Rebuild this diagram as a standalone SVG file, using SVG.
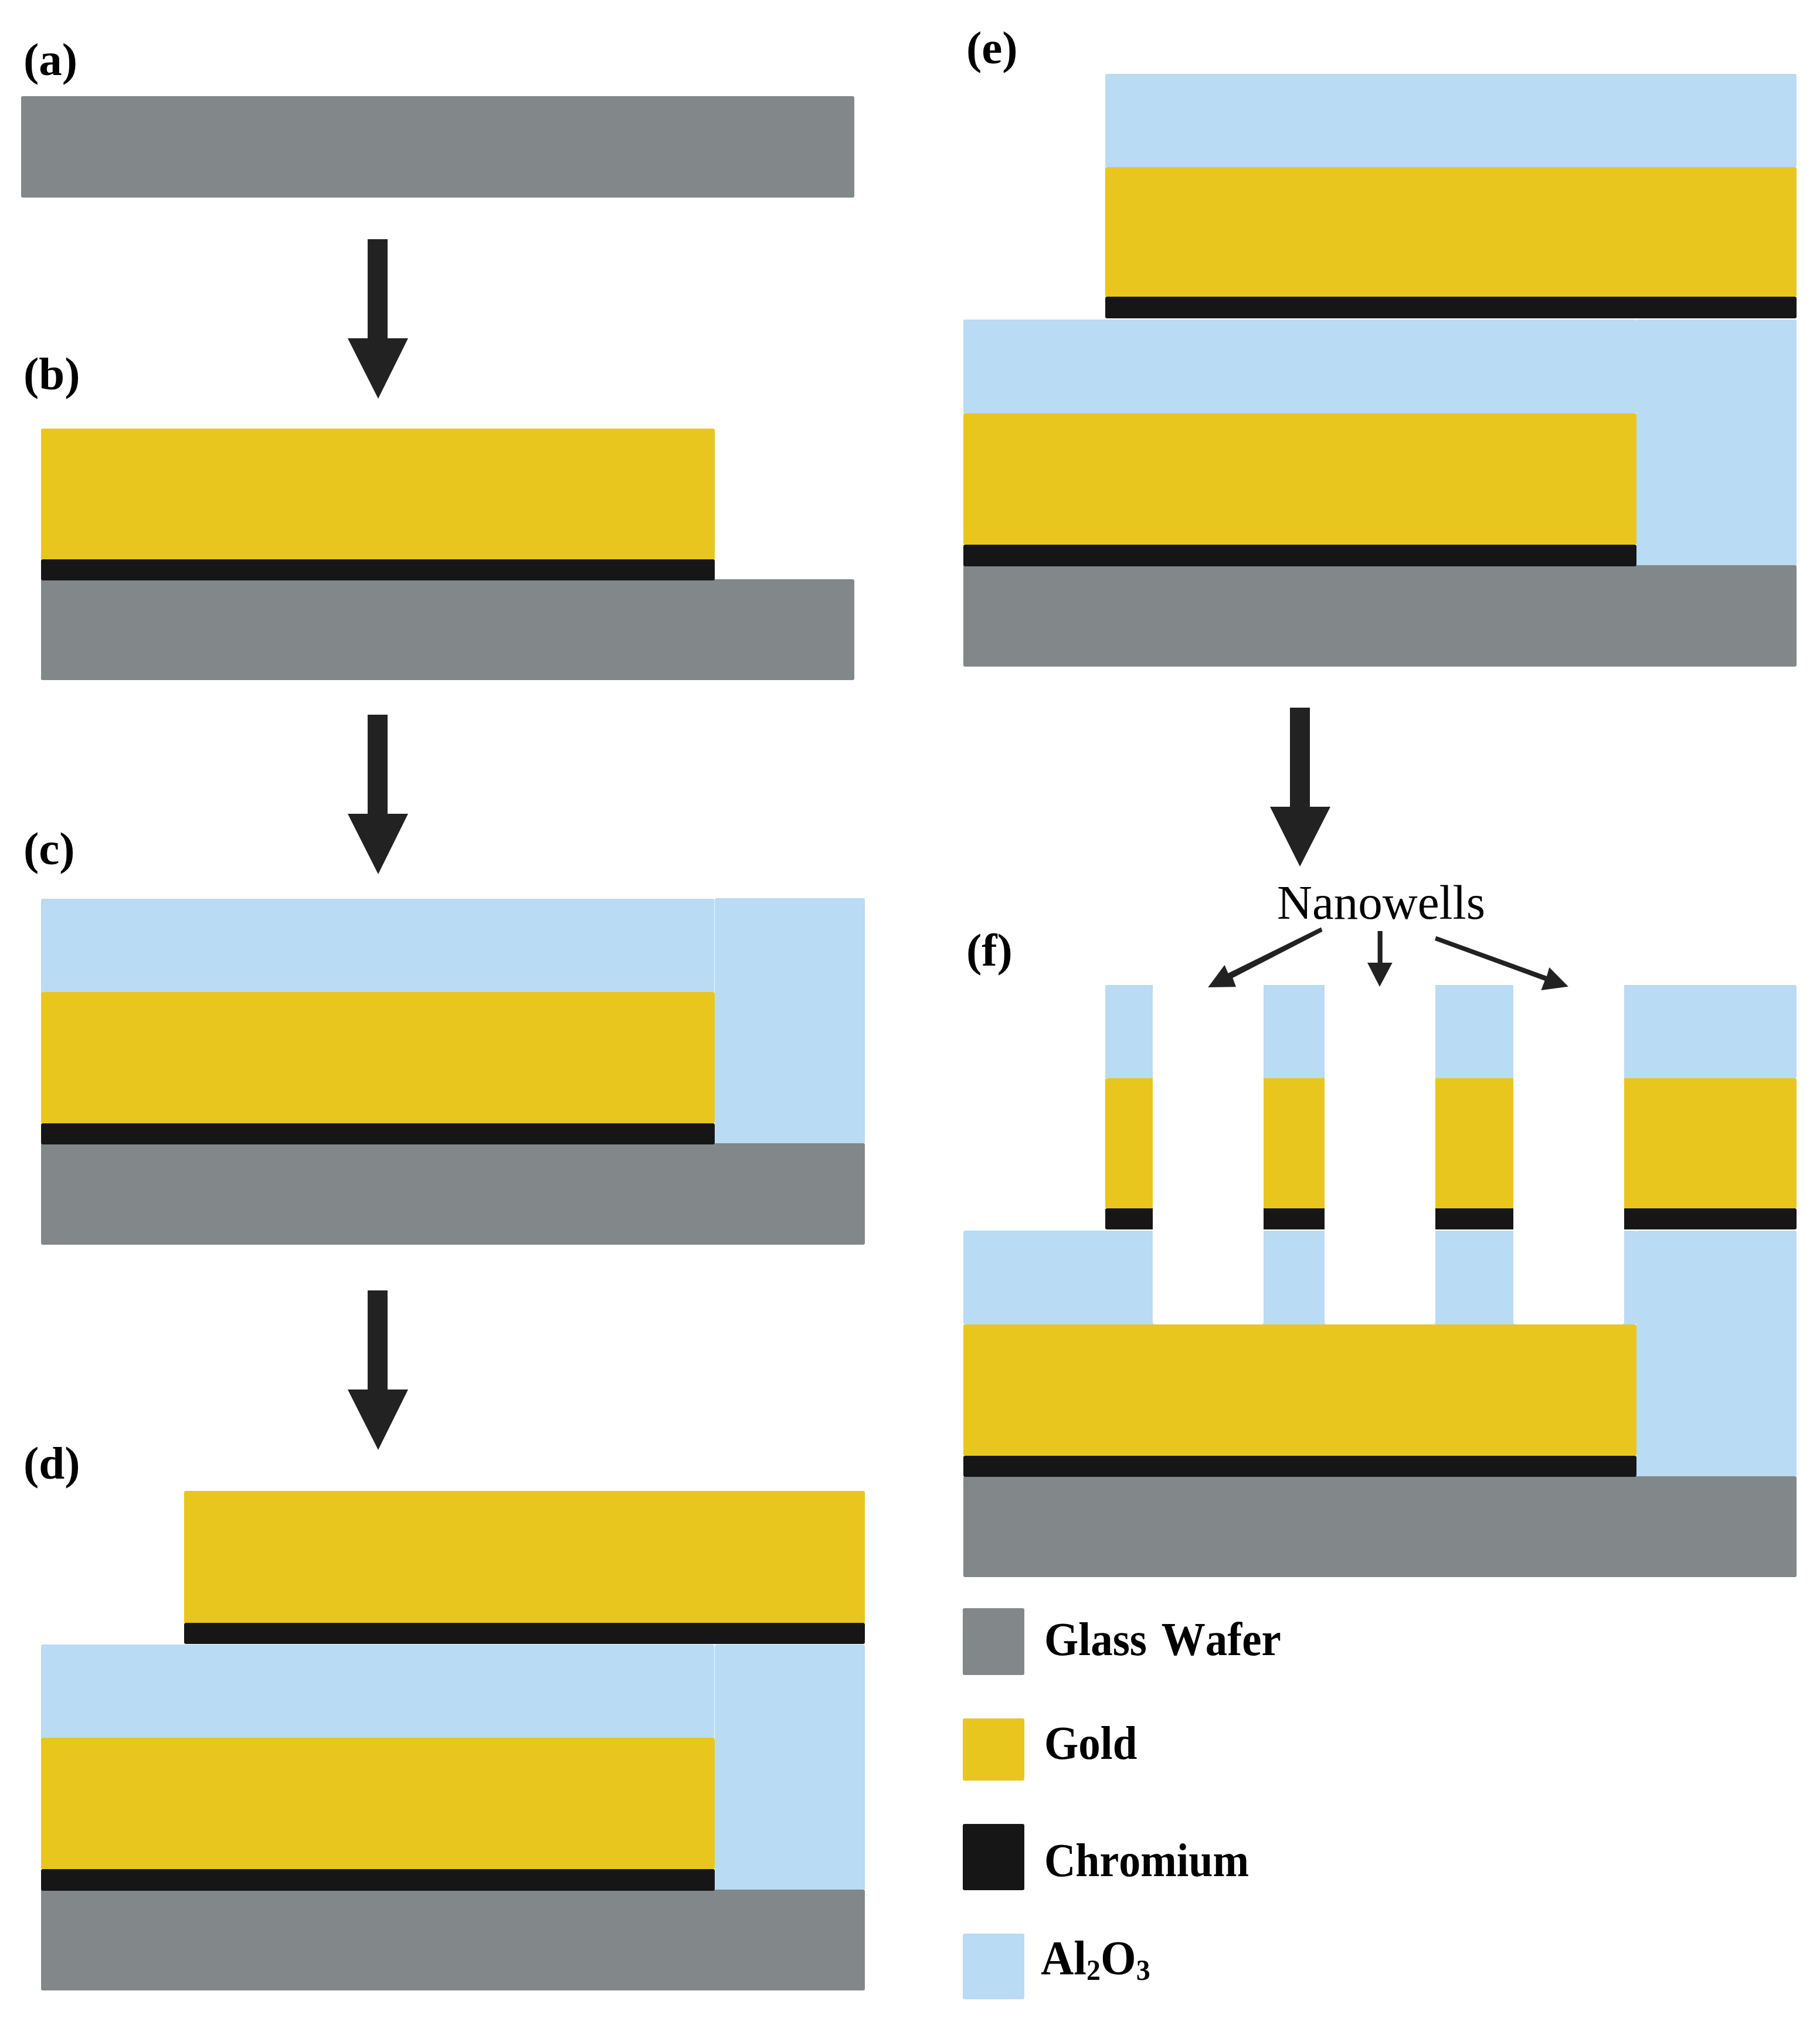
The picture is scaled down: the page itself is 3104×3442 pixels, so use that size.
<svg xmlns="http://www.w3.org/2000/svg" width="3104" height="3442" viewBox="0 0 3104 3442">
<style>
.w{fill:#82878a}.g{fill:#e9c61d}.c{fill:#161616}.a{fill:#b9dbf4}.h{fill:#fff}
.l{font-family:"Liberation Serif","Times New Roman",serif;font-weight:700;fill:#000}
.p{font-size:79px}.k{font-size:75px;font-kerning:none}
.n{font-family:"Liberation Serif","Times New Roman",serif;font-size:83px;fill:#000}
.ar{fill:#222}
</style>
<rect width="3104" height="3442" fill="#fff"/>
<g id="panel-a">
<rect class="w" x="36" y="164" width="1421" height="173" rx="3"/>
<text class="l p" x="40" y="128">(a)</text>
</g>
<g id="panel-b">
<rect class="w" x="70" y="988" width="1387" height="172" rx="3"/>
<rect class="g" x="70" y="731" width="1149" height="224" rx="3"/>
<rect class="c" x="70" y="954" width="1149" height="36" rx="3"/>
<text class="l p" x="40" y="664">(b)</text>
</g>
<g id="panel-c">
<rect class="a" x="70" y="1533" width="1148.4" height="160" rx="3"/>
<rect class="a" x="1219.2" y="1532" width="255.8" height="419" rx="3"/>
<rect class="w" x="70" y="1950" width="1405" height="173" rx="3"/>
<rect class="g" x="70" y="1692" width="1149" height="224" rx="3"/>
<rect class="c" x="70" y="1916" width="1149" height="36" rx="3"/>
<text class="l p" x="40" y="1474">(c)</text>
</g>
<g id="panel-d">
<rect class="a" x="70" y="2805" width="1148.4" height="160" rx="3"/>
<rect class="a" x="1219.2" y="2805" width="255.8" height="419" rx="3"/>
<rect class="g" x="314" y="2543" width="1161" height="226" rx="3"/>
<rect class="c" x="314" y="2768" width="1161" height="36" rx="3"/>
<rect class="w" x="70" y="3223" width="1405" height="172" rx="3"/>
<rect class="g" x="70" y="2964" width="1149" height="224" rx="3"/>
<rect class="c" x="70" y="3188" width="1149" height="37" rx="3"/>
<text class="l p" x="40" y="2522">(d)</text>
</g>
<g id="panel-e">
<rect class="a" x="1885" y="126" width="1179" height="159" rx="3"/>
<rect class="g" x="1885" y="285" width="1179" height="221" rx="3"/>
<rect class="c" x="1885" y="506" width="1179" height="37" rx="3"/>
<rect class="a" x="1643" y="545" width="1148" height="160" rx="3"/>
<rect class="a" x="2791" y="545" width="273" height="420" rx="3"/>
<rect class="w" x="1643" y="964" width="1421" height="173" rx="3"/>
<rect class="g" x="1643" y="705" width="1148" height="224" rx="3"/>
<rect class="c" x="1643" y="929" width="1148" height="37" rx="3"/>
<text class="l p" x="1648" y="108">(e)</text>
</g>
<g id="panel-f">
<rect class="a" x="1885" y="1680" width="1179" height="159" rx="3"/>
<rect class="g" x="1885" y="1839" width="1179" height="222" rx="3"/>
<rect class="c" x="1885" y="2061" width="1179" height="36" rx="3"/>
<rect class="a" x="1643" y="2099" width="1148" height="160" rx="3"/>
<rect class="a" x="2791" y="2099" width="273" height="420" rx="3"/>
<rect class="w" x="1643" y="2518" width="1421" height="172" rx="3"/>
<rect class="g" x="1643" y="2259" width="1148" height="224" rx="3"/>
<rect class="c" x="1643" y="2483" width="1148" height="36" rx="3"/>
<rect class="h" x="1966" y="1678" width="189" height="581" rx="4"/>
<rect class="h" x="2259" y="1678" width="189" height="581" rx="4"/>
<rect class="h" x="2581" y="1678" width="189" height="581" rx="4"/>
<text class="l p" x="1648" y="1647">(f)</text>
<text class="n" x="2178" y="1567">Nanowells</text>
</g>
<g id="connectors">
<polygon class="ar" points="627,408 661,408 661,577 696,577 645,680 593,577 627,577"/>
<polygon class="ar" points="627,1219 661,1219 661,1388 696,1388 645,1491 593,1388 627,1388"/>
<polygon class="ar" points="627,2201 661,2201 661,2370 696,2370 645,2473 593,2370 627,2370"/>
<polygon class="ar" points="2200,1207 2234,1207 2234,1376 2269,1376 2217,1478 2166,1376 2200,1376"/>
<polygon class="ar" points="2349.6,1588 2357.8,1588 2357.8,1642 2374.7,1642 2353,1683 2332,1642 2349.6,1642"/>
<polygon class="ar" points="2253,1581.7 2255.5,1588.7 2102.4,1668 2108,1683.3 2060.3,1684 2088.5,1646 2094.6,1660"/>
<polygon class="ar" points="2449.3,1596.7 2447,1604 2634.5,1672.7 2628.4,1689 2674.8,1682.7 2642.3,1650 2638,1665"/>
</g>
<g id="legend">
<rect class="w" x="1642" y="2743" width="105" height="114" rx="3"/>
<rect class="g" x="1642" y="2931" width="105" height="106" rx="3"/>
<rect class="c" x="1642" y="3111" width="105" height="113" rx="3"/>
<rect class="a" x="1642" y="3298" width="105" height="112" rx="3"/>
<text class="l k" transform="translate(1781,2823) scale(1,1.07)" word-spacing="6">Glass Wafer</text>
<text class="l k" transform="translate(1781,3000) scale(1,1.07)">Gold</text>
<text class="l k" transform="translate(1781,3200) scale(1,1.07)" textLength="349" lengthAdjust="spacingAndGlyphs">Chromium</text>
<text class="l k" transform="translate(1775,3367) scale(1,1.07)" font-size="78" style="font-size:78px">Al<tspan style="font-size:48px" dy="9">2</tspan><tspan dy="-9">O</tspan><tspan style="font-size:48px" dy="9">3</tspan></text>
</g>
</svg>
